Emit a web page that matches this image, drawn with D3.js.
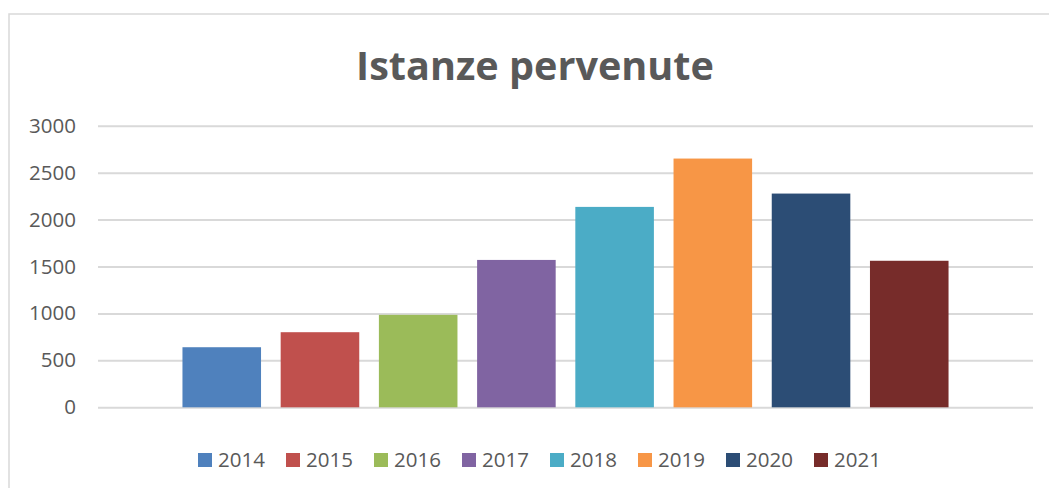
<!DOCTYPE html>
<html><head><meta charset="utf-8">
<script src="https://cdn.jsdelivr.net/npm/d3@7"></script>
<style>html,body{margin:0;padding:0;background:#fff;}svg{display:block;}</style>
</head><body>
<svg id="chart" width="1049" height="488"></svg>
<script>
const years = ["2014","2015","2016","2017","2018","2019","2020","2021"];
const values = [640, 800, 985, 1570, 2135, 2650, 2277, 1561];
const colors = ["#4F81BD","#C0504D","#9BBB59","#8064A2","#4BACC6","#F79646","#2C4D75","#772C2A"];
const yTicks = [0, 500, 1000, 1500, 2000, 2500, 3000];
const title = "Istanze pervenute";

const svg = d3.select("#chart");
const font = "'Open Sans', 'DejaVu Sans', sans-serif";
const textColor = "#595959";

svg.append("rect").attr("x", 9).attr("y", 14).attr("width", 1100).attr("height", 600)
  .attr("fill", "#fff").attr("stroke", "#D9D9D9").attr("stroke-width", 1.5);

const plot = {left: 98, right: 1033, top: 125.7, bottom: 407.3};
const x = d3.scaleBand().domain(years).range([plot.left, plot.right]).paddingInner(0.2).paddingOuter(0.86);
const y = d3.scaleLinear().domain([0, 3000]).range([plot.bottom, plot.top]);

// gridlines
const yAxis = d3.axisLeft(y).tickValues(yTicks).tickSize(-(plot.right - plot.left)).tickPadding(22).tickFormat(d3.format("d"));
const g = svg.append("g").attr("transform", `translate(${plot.left},0)`).call(yAxis);
g.select(".domain").remove();
g.selectAll(".tick line").attr("stroke", "#D9D9D9").attr("stroke-width", 2);
g.selectAll(".tick text").attr("fill", textColor).attr("font-family", font).attr("font-size", 20.5);

// bars
svg.append("g").selectAll("rect").data(years).join("rect")
  .attr("x", d => x(d)).attr("width", x.bandwidth())
  .attr("y", (d, i) => y(values[i])).attr("height", (d, i) => y(0) - y(values[i]))
  .attr("fill", (d, i) => colors[i]);

// title
const t = svg.append("text").attr("x", 535).attr("y", 79.5).attr("text-anchor", "middle")
  .attr("font-family", font).attr("font-weight", "bold").attr("font-size", 40)
  .attr("fill", textColor).text(title);
const tw = t.node().getComputedTextLength();
if (tw > 0) t.attr("font-size", 40 * 358 / tw);

// legend
const leg = svg.append("g");
const step = 88, lx0 = 198;
years.forEach((yr, i) => {
  const gx = lx0 + i * step;
  leg.append("rect").attr("x", gx).attr("y", 453).attr("width", 14).attr("height", 14).attr("fill", colors[i]);
  leg.append("text").attr("x", gx + 20).attr("y", 467).attr("font-family", font).attr("font-size", 20.5)
    .attr("fill", textColor).text(yr);
});
</script>
</body></html>
